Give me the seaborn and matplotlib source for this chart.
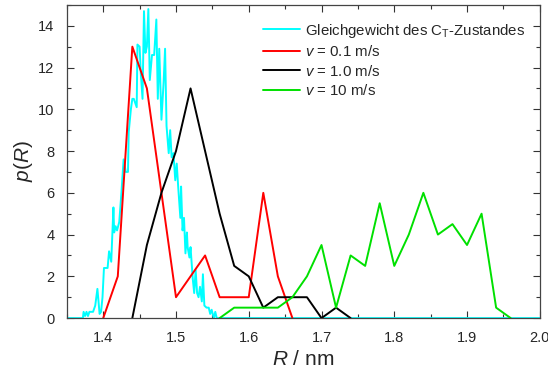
import matplotlib

matplotlib.use("Agg")

import matplotlib.pyplot as plt
from matplotlib.ticker import MultipleLocator
import pandas as pd
import seaborn as sns

# equilibrium distribution of the C_T state (fine histogram)
eq_r = [
    1.350, 1.372, 1.373, 1.375, 1.377, 1.379, 1.381, 1.384, 1.386, 1.389,
    1.392, 1.395, 1.397, 1.399, 1.401, 1.404, 1.406, 1.408, 1.411, 1.414,
    1.415, 1.417, 1.419, 1.422, 1.425, 1.428, 1.431, 1.434, 1.435, 1.438,
    1.440, 1.442, 1.446, 1.447, 1.450, 1.4515, 1.454, 1.456, 1.458, 1.460,
    1.462, 1.464, 1.467, 1.470, 1.473, 1.475, 1.477, 1.480, 1.483, 1.485,
    1.487, 1.490, 1.492, 1.494, 1.4965, 1.499, 1.501, 1.503, 1.506, 1.507,
    1.509, 1.511, 1.513, 1.515, 1.516, 1.5185, 1.520, 1.523, 1.525, 1.527,
    1.529, 1.531, 1.533, 1.5355, 1.537, 1.539, 1.542, 1.545, 1.547, 1.549,
    1.552, 1.554, 1.556, 2.000,
]
eq_p = [
    0.0, 0.0, 0.3, 0.1, 0.3, 0.1, 0.3, 0.3, 0.3, 0.6,
    1.4, 0.2, 0.3, 1.0, 2.4, 2.4, 2.4, 3.2, 2.7, 5.3,
    4.1, 4.4, 4.2, 4.6, 6.0, 7.6, 7.0, 7.0, 8.9, 10.0,
    10.5, 10.5, 10.1, 13.1, 13.0, 11.8, 10.5, 14.7, 12.7, 13.0,
    14.8, 11.4, 12.6, 12.6, 14.3, 10.5, 12.9, 9.5, 11.3, 12.9,
    9.2, 7.9, 9.0, 7.7, 7.9, 6.6, 7.4, 6.3, 4.8, 6.3,
    4.2, 4.8, 3.1, 4.1, 3.4, 2.9, 3.4, 1.9, 1.2, 2.3,
    1.2, 1.0, 1.5, 0.8, 2.1, 0.6, 0.5, 0.5, 0.2, 0.4,
    0.0, 0.3, 0.0, 0.0,
]

v01_r = [1.40, 1.42, 1.44, 1.46, 1.48, 1.50, 1.52, 1.54, 1.56, 1.58, 1.60, 1.62, 1.64, 1.66]
v01_p = [0.0, 2.0, 13.0, 11.0, 6.0, 1.0, 2.0, 3.0, 1.0, 1.0, 1.0, 6.0, 2.0, 0.0]

v1_r = [1.44, 1.46, 1.48, 1.50, 1.52, 1.54, 1.56, 1.58, 1.60, 1.62, 1.64, 1.66, 1.68, 1.70, 1.72, 1.74]
v1_p = [0.0, 3.5, 6.0, 8.0, 11.0, 8.0, 5.0, 2.5, 2.0, 0.5, 1.0, 1.0, 1.0, 0.0, 0.5, 0.0]

v10_r = [1.56, 1.58, 1.60, 1.62, 1.64, 1.66, 1.68, 1.70, 1.72, 1.74, 1.76, 1.78, 1.80,
         1.82, 1.84, 1.86, 1.88, 1.90, 1.92, 1.94, 1.96]
v10_p = [0.0, 0.5, 0.5, 0.5, 0.5, 1.0, 2.0, 3.5, 0.5, 3.0, 2.5, 5.5, 2.5,
         4.0, 6.0, 4.0, 4.5, 3.5, 5.0, 0.5, 0.0]

series = [
    (r"Gleichgewicht des C$_\mathregular{T}$-Zustandes", eq_r, eq_p, "#00ffff"),
    (r"$v$ = 0.1 m/s", v01_r, v01_p, "#ff0000"),
    (r"$v$ = 1.0 m/s", v1_r, v1_p, "#000000"),
    (r"$v$ = 10 m/s", v10_r, v10_p, "#00e000"),
]

sns.set_theme(style="ticks")
plt.rcParams["font.family"] = ["Liberation Sans", "DejaVu Sans"]
plt.rcParams["mathtext.fontset"] = "custom"
plt.rcParams["mathtext.rm"] = "Liberation Sans"
plt.rcParams["mathtext.it"] = "Liberation Sans:italic"

fig = plt.figure(figsize=(5.48, 3.76), dpi=100)
ax = fig.add_axes([0.122, 0.154, 0.863, 0.833])

for label, r, p, color in series:
    df = pd.DataFrame({"R": r, "p": p})
    sns.lineplot(data=df, x="R", y="p", color=color, linewidth=1.4,
                 estimator=None, sort=False, label=label, ax=ax)

ax.set_xlim(1.35, 2.0)
ax.set_ylim(0, 15)
ax.xaxis.set_major_locator(MultipleLocator(0.1))
ax.xaxis.set_minor_locator(MultipleLocator(0.05))
ax.yaxis.set_major_locator(MultipleLocator(2))
ax.yaxis.set_minor_locator(MultipleLocator(1))
ax.tick_params(which="both", direction="in", top=True, right=True,
               labelsize=10.5, color="#333333", width=0.8)
ax.tick_params(which="major", length=5, pad=9)
ax.tick_params(which="minor", length=3)
for spine in ax.spines.values():
    spine.set_color("#444444")
    spine.set_linewidth(0.9)
    spine.set_visible(True)

ax.set_xlabel(r"$R$ / nm", fontsize=15, labelpad=4)
ax.set_ylabel(r"$p(R)$", fontsize=15, labelpad=2)

ax.legend(loc="upper right", frameon=False, fontsize=10.8, handlelength=2.5,
          handletextpad=0.3, labelspacing=0.3, borderaxespad=0.5,
          bbox_to_anchor=(0.997, 0.99))

fig.savefig("out.png", dpi=100)
